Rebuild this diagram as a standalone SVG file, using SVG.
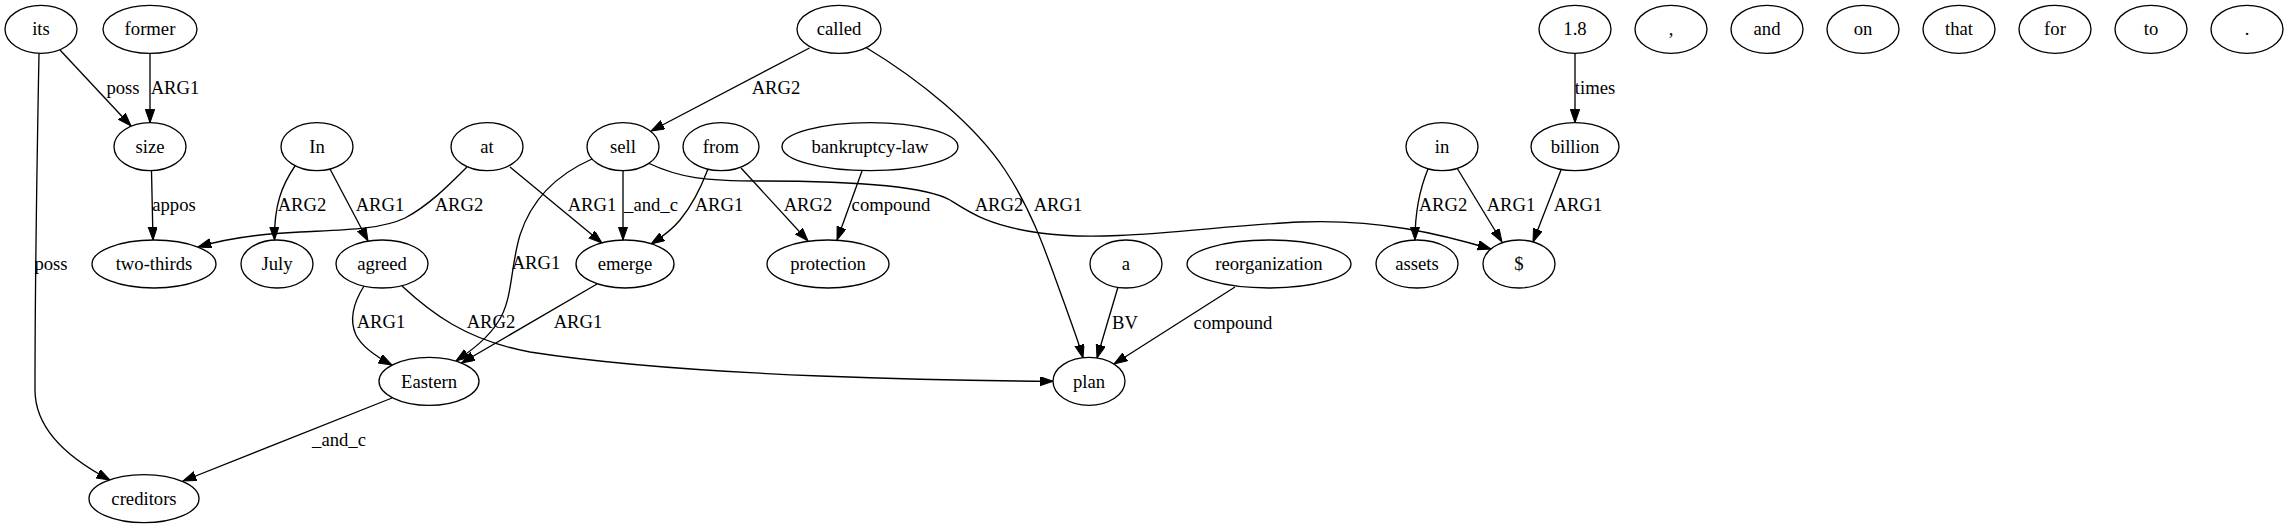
<svg xmlns="http://www.w3.org/2000/svg" width="2288" height="528" viewBox="0 0 2288 528" font-family="'Liberation Serif', 'DejaVu Serif', serif">
<style>
.node ellipse{fill:#fff;stroke:#000;stroke-width:1.33}
text{font-family:'Liberation Serif','DejaVu Serif',serif;font-size:18.67px;fill:#000;text-anchor:middle}
.edges path{fill:none;stroke:#000;stroke-width:1.33;marker-end:url(#arr)}
</style>
<defs>
<marker id="arr" markerUnits="userSpaceOnUse" markerWidth="14" markerHeight="10" refX="13.33" refY="4.67" orient="auto">
<path d="M0,0 L13.33,4.67 L0,9.33 Z" fill="#000" stroke="#000" stroke-width="1"/>
</marker>
</defs>
<rect width="2288" height="528" fill="#fff"/>
<g class="edges" id="edges">
<path d="M60,50 L131,126"/>
<path d="M150,53.3 L150,122.7"/>
<path d="M39,53.3 C37,160 35,300 35,390 C35,425 62,455 110,480"/>
<path d="M151.5,170.7 L153,240"/>
<path d="M295,166 C282,185 274,205 274.5,240"/>
<path d="M330,169 L368,241"/>
<path d="M467,167 C448,186 428,206 405,218 C380,230 340,230 300,232 C255,234 225,239 198,247"/>
<path d="M510,167 L602,243"/>
<path d="M623,170.7 L623,240"/>
<path d="M708,169 C700,190 690,208 680,220 C672,230 662,237 651,244"/>
<path d="M592,159 C558,174 532,198 520,235 C510,268 513,300 498,322 C488,338 472,350 456,361"/>
<path d="M597,284 L461.5,363"/>
<path d="M364,286 C354,302 349,320 356,335 C362,347 375,356 392,365"/>
<path d="M402,286 C430,312 465,340 530,352 C620,366 720,372 820,376 C920,380 990,381 1053,381.3"/>
<path d="M392,398 L183,481"/>
<path d="M809.5,48 L651,131"/>
<path d="M866,47.5 C920,80 975,125 1005,170 C1035,215 1050,265 1065,305 C1073,328 1079,343 1083,358"/>
<path d="M648,163 C680,178 705,181 760,181 C850,181 925,186 950,200 C972,214 990,226 1040,233 C1110,243 1210,226 1300,222 C1380,219 1440,234 1491,249"/>
<path d="M1428,169 C1421,186 1415,210 1415,240"/>
<path d="M1457,168 L1502,242"/>
<path d="M1561,170 L1533,242"/>
<path d="M1575,53.3 L1575,122.7"/>
<path d="M1118,287 L1097,358"/>
<path d="M1235,287 L1114,364"/>
<path d="M741,168 L808,241"/>
<path d="M862,171 L837,240"/>
</g>
<g id="edge-labels">
<text x="123" y="94">poss</text>
<text x="175" y="94">ARG1</text>
<text x="51" y="270">poss</text>
<text x="174" y="211">appos</text>
<text x="302" y="211">ARG2</text>
<text x="380" y="211">ARG1</text>
<text x="459" y="211">ARG2</text>
<text x="592" y="211">ARG1</text>
<text x="651" y="211">_and_c</text>
<text x="719" y="211">ARG1</text>
<text x="536" y="269">ARG1</text>
<text x="578" y="328">ARG1</text>
<text x="381" y="328">ARG1</text>
<text x="491" y="328">ARG2</text>
<text x="339" y="446">_and_c</text>
<text x="776" y="94">ARG2</text>
<text x="1058" y="211">ARG1</text>
<text x="999" y="211">ARG2</text>
<text x="1443" y="211">ARG2</text>
<text x="1511" y="211">ARG1</text>
<text x="1578" y="211">ARG1</text>
<text x="1595" y="94">times</text>
<text x="1125" y="329">BV</text>
<text x="1233" y="329">compound</text>
<text x="808" y="211">ARG2</text>
<text x="891" y="211">compound</text>
</g>
<g id="n-its" class="node"><ellipse cx="41" cy="29.33" rx="36" ry="24"/><text x="41" y="35">its</text></g>
<g id="n-former" class="node"><ellipse cx="150" cy="29.33" rx="47" ry="24"/><text x="150" y="35">former</text></g>
<g id="n-called" class="node"><ellipse cx="839" cy="29.33" rx="42" ry="24"/><text x="839" y="35">called</text></g>
<g id="n-1.8" class="node"><ellipse cx="1575" cy="29.33" rx="36" ry="24"/><text x="1575" y="35">1.8</text></g>
<g id="n-comma" class="node"><ellipse cx="1671" cy="29.33" rx="36" ry="24"/><text x="1671" y="35">,</text></g>
<g id="n-and" class="node"><ellipse cx="1767" cy="29.33" rx="36" ry="24"/><text x="1767" y="35">and</text></g>
<g id="n-on" class="node"><ellipse cx="1863" cy="29.33" rx="36" ry="24"/><text x="1863" y="35">on</text></g>
<g id="n-that" class="node"><ellipse cx="1959" cy="29.33" rx="36" ry="24"/><text x="1959" y="35">that</text></g>
<g id="n-for" class="node"><ellipse cx="2055" cy="29.33" rx="36" ry="24"/><text x="2055" y="35">for</text></g>
<g id="n-to" class="node"><ellipse cx="2151" cy="29.33" rx="36" ry="24"/><text x="2151" y="35">to</text></g>
<g id="n-period" class="node"><ellipse cx="2247" cy="29.33" rx="36" ry="24"/><text x="2247" y="35">.</text></g>
<g id="n-size" class="node"><ellipse cx="150" cy="146.67" rx="36" ry="24"/><text x="150" y="152.5">size</text></g>
<g id="n-In" class="node"><ellipse cx="317" cy="146.67" rx="36" ry="24"/><text x="317" y="152.5">In</text></g>
<g id="n-at" class="node"><ellipse cx="487" cy="146.67" rx="36" ry="24"/><text x="487" y="152.5">at</text></g>
<g id="n-sell" class="node"><ellipse cx="623" cy="146.67" rx="36" ry="24"/><text x="623" y="152.5">sell</text></g>
<g id="n-from" class="node"><ellipse cx="721" cy="146.67" rx="38" ry="24"/><text x="721" y="152.5">from</text></g>
<g id="n-bankruptcy-law" class="node"><ellipse cx="870" cy="146.67" rx="88" ry="24"/><text x="870" y="152.5">bankruptcy-law</text></g>
<g id="n-in" class="node"><ellipse cx="1442" cy="146.67" rx="36" ry="24"/><text x="1442" y="152.5">in</text></g>
<g id="n-billion" class="node"><ellipse cx="1575" cy="146.67" rx="44" ry="24"/><text x="1575" y="152.5">billion</text></g>
<g id="n-two-thirds" class="node"><ellipse cx="154" cy="264" rx="62" ry="24"/><text x="154" y="270">two-thirds</text></g>
<g id="n-July" class="node"><ellipse cx="277" cy="264" rx="36" ry="24"/><text x="277" y="270">July</text></g>
<g id="n-agreed" class="node"><ellipse cx="382" cy="264" rx="46" ry="24"/><text x="382" y="270">agreed</text></g>
<g id="n-emerge" class="node"><ellipse cx="625" cy="264" rx="49" ry="24"/><text x="625" y="270">emerge</text></g>
<g id="n-protection" class="node"><ellipse cx="828" cy="264" rx="61" ry="24"/><text x="828" y="270">protection</text></g>
<g id="n-a" class="node"><ellipse cx="1126" cy="264" rx="36" ry="24"/><text x="1126" y="270">a</text></g>
<g id="n-reorganization" class="node"><ellipse cx="1269" cy="264" rx="82" ry="24"/><text x="1269" y="270">reorganization</text></g>
<g id="n-assets" class="node"><ellipse cx="1417" cy="264" rx="41" ry="24"/><text x="1417" y="270">assets</text></g>
<g id="n-dollar" class="node"><ellipse cx="1519" cy="264" rx="36" ry="24"/><text x="1519" y="270">$</text></g>
<g id="n-Eastern" class="node"><ellipse cx="429" cy="381.33" rx="50" ry="24"/><text x="429" y="387.5">Eastern</text></g>
<g id="n-plan" class="node"><ellipse cx="1089" cy="381.33" rx="36" ry="24"/><text x="1089" y="387.5">plan</text></g>
<g id="n-creditors" class="node"><ellipse cx="144" cy="498.67" rx="55" ry="24"/><text x="144" y="504.5">creditors</text></g>
</svg>
